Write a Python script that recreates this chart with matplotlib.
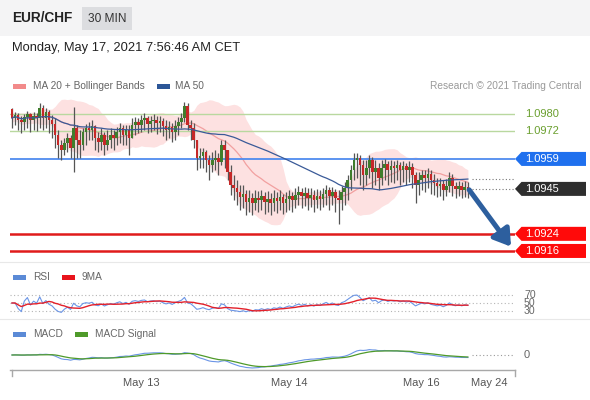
import numpy as np
import pandas as pd
import matplotlib
matplotlib.use("Agg")
import matplotlib.pyplot as plt
import matplotlib.transforms as mtransforms
from matplotlib.patches import Rectangle, Polygon
from matplotlib.lines import Line2D

plt.rcParams['font.family'] = ['Liberation Sans', 'DejaVu Sans']

# ---------------- data ----------------
symbol = "EUR/CHF"
timeframe = "30 MIN"
timestamp = "Monday, May 17, 2021 7:56:46 AM CET"
copyright_text = "Research \u00a9 2021 Trading Central"

first_open = 1.09823
closes = [
    1.09781, 1.09795, 1.09772, 1.09763, 1.09786, 1.09800, 1.09772, 1.09791, 1.09781, 1.09828,
    1.09781, 1.09809, 1.09772, 1.09753, 1.09702, 1.09655, 1.09632, 1.09665, 1.09688, 1.09641,
    1.09735, 1.09679, 1.09655, 1.09716, 1.09735, 1.09725, 1.09744, 1.09688, 1.09669, 1.09702,
    1.09655, 1.09679, 1.09702, 1.09688, 1.09716, 1.09735, 1.09702, 1.09725, 1.09688, 1.09749,
    1.09763, 1.09749, 1.09772, 1.09781, 1.09753, 1.09767, 1.09772, 1.09758, 1.09767, 1.09744,
    1.09725, 1.09739, 1.09716, 1.09744, 1.09763, 1.09781, 1.09837, 1.09749, 1.09735, 1.09679,
    1.09594, 1.09604, 1.09622, 1.09585, 1.09562, 1.09585, 1.09594, 1.09576, 1.09655, 1.09632,
    1.09529, 1.09468, 1.09454, 1.09436, 1.09412, 1.09426, 1.09389, 1.09407, 1.09384, 1.09407,
    1.09398, 1.09417, 1.09389, 1.09403, 1.09384, 1.09407, 1.09393, 1.09412, 1.09384, 1.09403,
    1.09417, 1.09398, 1.09421, 1.09436, 1.09417, 1.09431, 1.09407, 1.09421, 1.09398, 1.09417,
    1.09403, 1.09426, 1.09445, 1.09417, 1.09436, 1.09407, 1.09398, 1.09436, 1.09454, 1.09492,
    1.09538, 1.09585, 1.09594, 1.09562, 1.09515, 1.09548, 1.09585, 1.09529, 1.09548, 1.09501,
    1.09548, 1.09566, 1.09538, 1.09557, 1.09548, 1.09562, 1.09538, 1.09557, 1.09538, 1.09552,
    1.09515, 1.09468, 1.09492, 1.09515, 1.09501, 1.09520, 1.09492, 1.09478, 1.09464, 1.09473,
    1.09445, 1.09464, 1.09501, 1.09464, 1.09450, 1.09464, 1.09445, 1.09459, 1.09450,
]
highs = [
    1.09828, 1.09809, 1.09805, 1.09791, 1.09800, 1.09814, 1.09805, 1.09809, 1.09805, 1.09851,
    1.09842, 1.09828, 1.09819, 1.09795, 1.09781, 1.09725, 1.09679, 1.09688, 1.09711, 1.09702,
    1.09833, 1.09749, 1.09725, 1.09735, 1.09753, 1.09763, 1.09772, 1.09749, 1.09716, 1.09735,
    1.09716, 1.09725, 1.09735, 1.09725, 1.09739, 1.09758, 1.09749, 1.09749, 1.09749, 1.09781,
    1.09786, 1.09781, 1.09795, 1.09805, 1.09791, 1.09791, 1.09800, 1.09791, 1.09791, 1.09781,
    1.09772, 1.09767, 1.09758, 1.09772, 1.09786, 1.09805, 1.09856, 1.09851, 1.09772, 1.09758,
    1.09679, 1.09641, 1.09641, 1.09632, 1.09608, 1.09622, 1.09632, 1.09618, 1.09679, 1.09679,
    1.09632, 1.09562, 1.09515, 1.09492, 1.09468, 1.09468, 1.09445, 1.09445, 1.09431, 1.09445,
    1.09440, 1.09445, 1.09436, 1.09440, 1.09431, 1.09445, 1.09436, 1.09445, 1.09426, 1.09436,
    1.09445, 1.09436, 1.09454, 1.09464, 1.09454, 1.09459, 1.09454, 1.09454, 1.09445, 1.09450,
    1.09445, 1.09454, 1.09468, 1.09459, 1.09459, 1.09450, 1.09445, 1.09464, 1.09482, 1.09515,
    1.09562, 1.09618, 1.09618, 1.09608, 1.09585, 1.09585, 1.09608, 1.09599, 1.09585, 1.09571,
    1.09585, 1.09590, 1.09580, 1.09585, 1.09580, 1.09585, 1.09576, 1.09580, 1.09571, 1.09580,
    1.09571, 1.09529, 1.09529, 1.09538, 1.09538, 1.09548, 1.09538, 1.09520, 1.09501, 1.09501,
    1.09492, 1.09496, 1.09529, 1.09520, 1.09482, 1.09487, 1.09482, 1.09487, 1.09482,
]
lows = [
    1.09735, 1.09749, 1.09725, 1.09711, 1.09725, 1.09735, 1.09716, 1.09725, 1.09721, 1.09735,
    1.09725, 1.09735, 1.09711, 1.09688, 1.09641, 1.09594, 1.09585, 1.09608, 1.09622, 1.09594,
    1.09529, 1.09594, 1.09594, 1.09632, 1.09655, 1.09679, 1.09679, 1.09632, 1.09622, 1.09632,
    1.09608, 1.09632, 1.09641, 1.09632, 1.09655, 1.09665, 1.09655, 1.09655, 1.09608, 1.09688,
    1.09702, 1.09711, 1.09716, 1.09725, 1.09711, 1.09716, 1.09725, 1.09707, 1.09716, 1.09697,
    1.09679, 1.09688, 1.09669, 1.09679, 1.09702, 1.09735, 1.09763, 1.09725, 1.09679, 1.09641,
    1.09538, 1.09548, 1.09548, 1.09529, 1.09492, 1.09529, 1.09538, 1.09515, 1.09562, 1.09548,
    1.09492, 1.09421, 1.09398, 1.09375, 1.09351, 1.09361, 1.09328, 1.09342, 1.09328, 1.09351,
    1.09342, 1.09351, 1.09333, 1.09342, 1.09328, 1.09347, 1.09337, 1.09351, 1.09333, 1.09342,
    1.09351, 1.09342, 1.09361, 1.09375, 1.09361, 1.09370, 1.09351, 1.09365, 1.09342, 1.09361,
    1.09351, 1.09365, 1.09375, 1.09351, 1.09375, 1.09342, 1.09286, 1.09351, 1.09375, 1.09398,
    1.09445, 1.09492, 1.09501, 1.09468, 1.09445, 1.09468, 1.09501, 1.09454, 1.09468, 1.09445,
    1.09468, 1.09492, 1.09468, 1.09482, 1.09478, 1.09492, 1.09468, 1.09482, 1.09468, 1.09482,
    1.09454, 1.09384, 1.09421, 1.09445, 1.09436, 1.09454, 1.09426, 1.09421, 1.09412, 1.09417,
    1.09398, 1.09417, 1.09436, 1.09417, 1.09407, 1.09417, 1.09407, 1.09412, 1.09407,
]

day_ticks = [42, 90, 133, 155]
day_labels = ["May 13", "May 14", "May 16", "May 24"]

resistances = [1.0980, 1.0972]
pivot = 1.0959
last_price = 1.0945
supports = [1.0924, 1.0916]
target_price = 1.0918
forecast_index = 162
rsi_levels = [70, 50, 30]

# ---------------- figure ----------------
W, H = 590, 400
fig = plt.figure(figsize=(W / 100, H / 100), dpi=100)
fig.patch.set_facecolor('white')


def fx(x):
    return x / W


def fy(y):
    return 1 - y / H


def add_ax(x0, y0, x1, y1):
    a = fig.add_axes([fx(x0), fy(y1), (x1 - x0) / W, (y1 - y0) / H])
    a.set_facecolor('none')
    for s in a.spines.values():
        s.set_visible(False)
    a.set_xticks([])
    a.set_yticks([])
    return a


# header
fig.add_artist(Rectangle((0, fy(36)), 1, 36 / H, transform=fig.transFigure,
                         facecolor='#f4f4f5', edgecolor='none', zorder=0))
fig.add_artist(Rectangle((fx(82), fy(30)), 50 / W, 23 / H, transform=fig.transFigure,
                         facecolor='#dcdde0', edgecolor='none', zorder=1))
fig.text(fx(12), fy(18), symbol, fontsize=9.8, fontweight='bold', color='#222222',
         va='center', ha='left')
fig.text(fx(107), fy(18.5), timeframe, fontsize=8.6, color='#333333', va='center', ha='center')
fig.text(fx(12), fy(48), timestamp, fontsize=9.3, color='#222222', va='center', ha='left')

# separators
for ysep in (262, 319):
    fig.add_artist(Line2D([0, 1], [fy(ysep), fy(ysep)], transform=fig.transFigure,
                          color='#e8e8e8', lw=0.8))

XL = (-0.65, 163.3)
n = len(closes)
idx = np.arange(n)
c = np.array(closes)
o = np.array([first_open] + closes[:-1])
h = np.maximum(np.array(highs), np.maximum(o, c))
l = np.minimum(np.array(lows), np.minimum(o, c))
s = pd.Series(c)

# ---------------- main price panel ----------------
ax = add_ax(10, 97, 515, 262)
ax.set_xlim(*XL)
ax.set_ylim(1.091084, 1.098794)

ma20 = s.rolling(20, min_periods=1).mean()
sd20 = s.rolling(20, min_periods=2).std().bfill()
upper = ma20 + 2 * sd20
lower = ma20 - 2 * sd20
ma50 = s.rolling(50, min_periods=1).mean()

ax.fill_between(idx, lower, upper, color='#fde1e1', lw=0, zorder=1)
ax.plot(idx, ma20, color='#f2a0a0', lw=0.9, zorder=2)

for r in resistances:
    ax.axhline(r, color='#b9d89f', lw=1.0, zorder=2)
ax.axhline(pivot, color='#4f8bef', lw=1.3, zorder=2)
for sp in supports:
    ax.axhline(sp, color='#e01b1b', lw=1.8, zorder=2)

ax.vlines(idx, l, h, color='#555555', lw=0.9, zorder=3)
for i in range(n):
    col = '#3f7d2c' if c[i] >= o[i] else '#c62828'
    bottom = min(o[i], c[i])
    height = max(abs(c[i] - o[i]), 0.00003)
    ax.add_patch(Rectangle((i - 0.42, bottom), 0.84, height, facecolor=col,
                           edgecolor='none', zorder=4))

ax.plot(idx, ma50, color='#3a5a98', lw=0.9, zorder=5)

# dotted last value lines
ax.hlines([c[-1], ma50.iloc[-1]], n + 0.2, XL[1], colors='#777777', lw=0.8,
          linestyles=(0, (1, 2)), zorder=2)

# forecast arrow
ax.annotate('', xy=(forecast_index, target_price), xytext=(n - 1 + 0.4, c[-1] - 0.00004),
            arrowprops=dict(arrowstyle='-|>,head_width=0.45,head_length=0.7', lw=3.6,
                            color='#2d5f9e', mutation_scale=14, shrinkA=0, shrinkB=0),
            annotation_clip=False, zorder=6)

# legend
fig.add_artist(Rectangle((fx(13), fy(88.5)), 13 / W, 5 / H, transform=fig.transFigure,
                         facecolor='#f28a8a', edgecolor='none'))
fig.text(fx(33), fy(86), "MA 20 + Bollinger Bands", fontsize=7.3, color='#666666',
         va='center', ha='left')
fig.add_artist(Rectangle((fx(157), fy(88.5)), 13 / W, 5 / H, transform=fig.transFigure,
                         facecolor='#2c5697', edgecolor='none'))
fig.text(fx(175), fy(86), "MA 50", fontsize=7.3, color='#666666', va='center', ha='left')
fig.text(fx(581), fy(86), copyright_text, fontsize=7.3, color='#999999', va='center',
         ha='right')

# right-side labels
ident = mtransforms.IdentityTransform()


def price_to_fig_y(price):
    _, yd = ax.transData.transform((0, price))
    return yd


for r in resistances:
    yd = price_to_fig_y(r)
    fig.text(fx(525), yd / H, f"{r:.4f}", fontsize=8, color='#6a9f2e', va='center',
             ha='left')


def label_box(price, fc):
    yd = price_to_fig_y(price)
    xs = np.array([515, 521.5, 586, 586, 521.5])
    ys = yd + np.array([0, 7, 7, -7, -7])
    fig.add_artist(Polygon(np.column_stack([xs, ys]), closed=True, transform=ident,
                           facecolor=fc, edgecolor='none'))
    fig.text(fx(525), yd / H, f"{price:.4f}", fontsize=8, color='white', va='center',
             ha='left')


label_box(pivot, '#1f70ee')
label_box(last_price, '#2e2e2e')
for sp in supports:
    label_box(sp, '#ff0a0a')

# ---------------- RSI panel ----------------
delta = s.diff()
gain = delta.clip(lower=0).fillna(0)
loss = (-delta.clip(upper=0)).fillna(0)
avg_g = gain.ewm(alpha=1 / 14, adjust=False).mean()
avg_l = loss.ewm(alpha=1 / 14, adjust=False).mean()
rsi = 100 - 100 / (1 + avg_g / avg_l.replace(0, np.nan))
rsi = rsi.fillna(50)
rsi_ma = rsi.rolling(9, min_periods=1).mean()

ax_r = add_ax(10, 268, 515, 318)
ax_r.set_xlim(*XL)
ax_r.set_ylim(12.5, 137.5)
for lv in rsi_levels:
    ax_r.axhline(lv, color='#b5b5b5', lw=0.8, ls=(0, (1, 2.2)), zorder=1)
ax_r.plot(idx, rsi, color='#6b95e6', lw=0.8, zorder=2)
ax_r.plot(idx, rsi_ma, color='#e3202a', lw=1.0, zorder=3)
for lv in rsi_levels:
    yd = ax_r.transData.transform((0, lv))[1]
    fig.text(fx(524), yd / H, str(lv), fontsize=7.6, color='#666666', va='center', ha='left')

fig.add_artist(Rectangle((fx(13), fy(279.5)), 13 / W, 5 / H, transform=fig.transFigure,
                         facecolor='#5b8ad6', edgecolor='none'))
fig.text(fx(33), fy(277), "RSI", fontsize=7.3, color='#666666', va='center', ha='left')
fig.add_artist(Rectangle((fx(62), fy(279.5)), 13 / W, 5 / H, transform=fig.transFigure,
                         facecolor='#e8141c', edgecolor='none'))
fig.text(fx(82), fy(277), "9MA", fontsize=7.3, color='#666666', va='center', ha='left')

# ---------------- MACD panel ----------------
ema12 = s.ewm(span=12, adjust=False).mean()
ema26 = s.ewm(span=26, adjust=False).mean()
macd = ema12 - ema26
signal = macd.ewm(span=9, adjust=False).mean()

ax_m = add_ax(10, 322, 515, 370)
ax_m.set_xlim(*XL)
mn = min(macd.min(), signal.min())
R = -mn / 0.2705
b = -0.3125 * R
ax_m.set_ylim(b, b + R)
ax_m.plot(idx, macd, color='#6b95e6', lw=0.8, zorder=2)
ax_m.plot(idx, signal, color='#4f9a2a', lw=0.9, zorder=3)
ax_m.hlines(0, n + 0.2, XL[1], colors='#9a9a9a', lw=0.8, linestyles=(0, (1, 2.2)))
yd0 = ax_m.transData.transform((0, 0))[1]
fig.text(fx(524), yd0 / H, "0", fontsize=8, color='#666666', va='center', ha='left')

fig.add_artist(Rectangle((fx(13), fy(336.5)), 13 / W, 5 / H, transform=fig.transFigure,
                         facecolor='#5b8ad6', edgecolor='none'))
fig.text(fx(33), fy(334), "MACD", fontsize=7.3, color='#666666', va='center', ha='left')
fig.add_artist(Rectangle((fx(75), fy(336.5)), 13 / W, 5 / H, transform=fig.transFigure,
                         facecolor='#4f9a2a', edgecolor='none'))
fig.text(fx(95), fy(334), "MACD Signal", fontsize=7.3, color='#666666', va='center',
         ha='left')

# x axis
ax_m.spines['bottom'].set_visible(True)
ax_m.spines['bottom'].set_color('#a8a8a8')
ax_m.spines['bottom'].set_linewidth(1.0)
ax_m.set_xticks(day_ticks)
ax_m.set_xticklabels(day_labels, fontsize=8, color='#555555')
ax_m.tick_params(axis='x', length=0, pad=6)
for xe in (12, 515):
    fig.add_artist(Line2D([fx(xe), fx(xe)], [fy(370), fy(376)], transform=fig.transFigure,
                          color='#a8a8a8', lw=1.0))

fig.savefig("out.png", dpi=100, facecolor='white')
